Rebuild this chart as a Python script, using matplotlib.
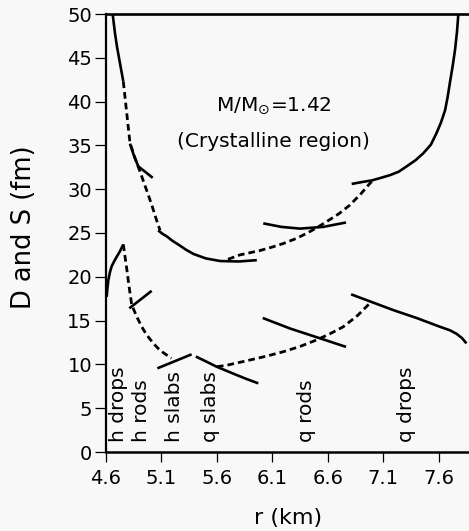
import matplotlib
matplotlib.use("Agg")
import matplotlib.pyplot as plt

plt.rcParams["font.family"] = ["DejaVu Sans"]
plt.rcParams["lines.scale_dashes"] = False

# Cell size D (upper curves) and nuclear size S (lower curves) versus radius r,
# for each pasta phase; solid = phase branch, dashed = connecting trend.
hdrops_D_r = [4.660, 4.681, 4.700, 4.720, 4.756]
hdrops_D = [50.0, 47.8, 46.2, 44.8, 42.3]
hrods_D_r = [4.816, 4.85, 4.891, 4.952, 5.021]
hrods_D = [35.2, 33.9, 32.6, 32.0, 31.3]
slabs_D_r = [5.07, 5.11, 5.15, 5.20, 5.25, 5.32, 5.39, 5.50, 5.63, 5.80, 5.96]
slabs_D = [25.3, 24.9, 24.6, 24.1, 23.7, 23.1, 22.6, 22.1, 21.8, 21.75, 21.9]
qrods_D_r = [6.018, 6.18, 6.349, 6.56, 6.764]
qrods_D = [26.1, 25.7, 25.5, 25.7, 26.2]
qdrops_D_r = [6.815, 6.90, 6.996, 7.08, 7.16, 7.24, 7.31, 7.39, 7.461, 7.53,
              7.58, 7.62, 7.657, 7.68, 7.70, 7.725, 7.747, 7.765, 7.777]
qdrops_D = [30.6, 30.8, 31.0, 31.3, 31.6, 32.0, 32.6, 33.3, 34.1, 35.1,
            36.4, 37.6, 39.0, 40.5, 42.1, 44.0, 45.9, 48.0, 50.0]

trend_hD_r = [4.756, 4.786, 4.816, 4.86, 4.91, 4.96, 5.01, 5.05, 5.087]
trend_hD = [42.3, 38.8, 35.3, 33.6, 31.9, 30.1, 28.3, 26.7, 25.3]
trend_qD_r = [5.70, 5.808, 5.989, 6.10, 6.199, 6.31, 6.41, 6.50, 6.59, 6.70, 6.80, 6.90, 6.996]
trend_qD = [22.0, 22.5, 23.0, 23.4, 23.8, 24.35, 24.96, 25.6, 26.3, 27.2, 28.2, 29.5, 30.9]

hdrops_S_r = [4.606, 4.613, 4.621, 4.635, 4.651, 4.675, 4.697, 4.725, 4.756]
hdrops_S = [17.7, 18.7, 19.6, 20.5, 21.2, 21.8, 22.3, 22.9, 23.7]
hrods_S_r = [4.81, 5.012]
hrods_S = [16.4, 18.4]
hslabs_S_r = [5.063, 5.372]
hslabs_S = [9.55, 11.15]
qslabs_S_r = [5.41, 5.508, 5.597, 5.69, 5.778, 5.87, 5.973]
qslabs_S = [10.9, 10.3, 9.74, 9.25, 8.79, 8.32, 7.84]
qrods_S_r = [6.013, 6.259, 6.50, 6.764]
qrods_S = [15.3, 14.1, 13.1, 12.0]
qdrops_S_r = [6.81, 7.0, 7.19, 7.40, 7.61, 7.70, 7.76, 7.81, 7.85]
qdrops_S = [18.0, 17.1, 16.2, 15.3, 14.3, 13.9, 13.5, 13.0, 12.4]

trend_hS_r = [4.756, 4.786, 4.81, 4.832, 4.877, 4.922, 4.967, 5.027, 5.087, 5.147, 5.19]
trend_hS = [23.7, 21.0, 18.7, 16.8, 15.45, 14.3, 13.36, 12.4, 11.6, 11.07, 10.7]
trend_qS_r = [5.60, 5.688, 5.898, 6.05, 6.199, 6.35, 6.50, 6.62, 6.74, 6.87, 6.996]
trend_qS = [9.74, 9.9, 10.5, 10.95, 11.45, 12.05, 12.8, 13.5, 14.3, 15.6, 17.2]

phase_labels = ["h drops", "h rods", "h slabs", "q slabs", "q rods", "q drops"]
phase_label_r = [4.711, 4.922, 5.222, 5.538, 6.41, 7.311]

x_ticks = [4.6, 5.1, 5.6, 6.1, 6.6, 7.1, 7.6]
y_ticks = [0, 5, 10, 15, 20, 25, 30, 35, 40, 45, 50]

bg = "#f8f8f8"
fig = plt.figure(figsize=(4.69, 5.31), dpi=100, facecolor=bg)
ax = fig.add_axes([106 / 469, 79 / 531, 363 / 469, 438 / 531], facecolor=bg)

solid = dict(color="black", lw=1.9, solid_capstyle="butt", solid_joinstyle="round")
dashed = dict(color="black", lw=2.0, dashes=(4.8, 2.9), dash_capstyle="butt")

for r, v in [(hdrops_D_r, hdrops_D), (hrods_D_r, hrods_D), (slabs_D_r, slabs_D),
             (qrods_D_r, qrods_D), (qdrops_D_r, qdrops_D),
             (hdrops_S_r, hdrops_S), (hrods_S_r, hrods_S), (hslabs_S_r, hslabs_S),
             (qslabs_S_r, qslabs_S), (qrods_S_r, qrods_S), (qdrops_S_r, qdrops_S)]:
    ax.plot(r, v, **solid)

for r, v in [(trend_hD_r, trend_hD), (trend_qD_r, trend_qD),
             (trend_hS_r, trend_hS), (trend_qS_r, trend_qS)]:
    ax.plot(r, v, **dashed)

for lab, r in zip(phase_labels, phase_label_r):
    ax.text(r, 1.1, lab, rotation=90, ha="center", va="bottom", fontsize=14.5)

ax.text(6.115, 39.0, r"M/M$_{\odot}$=1.42", ha="center", va="baseline", fontsize=14.5)
ax.text(6.106, 34.85, "(Crystalline region)", ha="center", va="baseline", fontsize=14.5)

ax.set_xlim(4.6, 7.873)
ax.set_ylim(0, 50)
ax.set_xticks(x_ticks)
ax.set_xticklabels([f"{t:.1f}" for t in x_ticks])
ax.set_yticks(y_ticks)

ax.spines["right"].set_visible(False)
ax.spines["top"].set_linewidth(1.9)
ax.spines["bottom"].set_linewidth(1.8)
ax.spines["left"].set_linewidth(1.6)

ax.tick_params(axis="x", direction="out", length=7, width=0.9, pad=5.5, labelsize=14)
ax.tick_params(axis="y", direction="out", length=8, width=0.9, pad=2, labelsize=14)

ax.set_xlabel("r (km)", fontsize=16)
ax.set_ylabel("D and S (fm)", fontsize=18.5)
ax.xaxis.set_label_coords(0.501, -0.128)
ax.yaxis.set_label_coords(-0.19, 0.513)

fig.savefig("out.png", dpi=100, facecolor=bg)
